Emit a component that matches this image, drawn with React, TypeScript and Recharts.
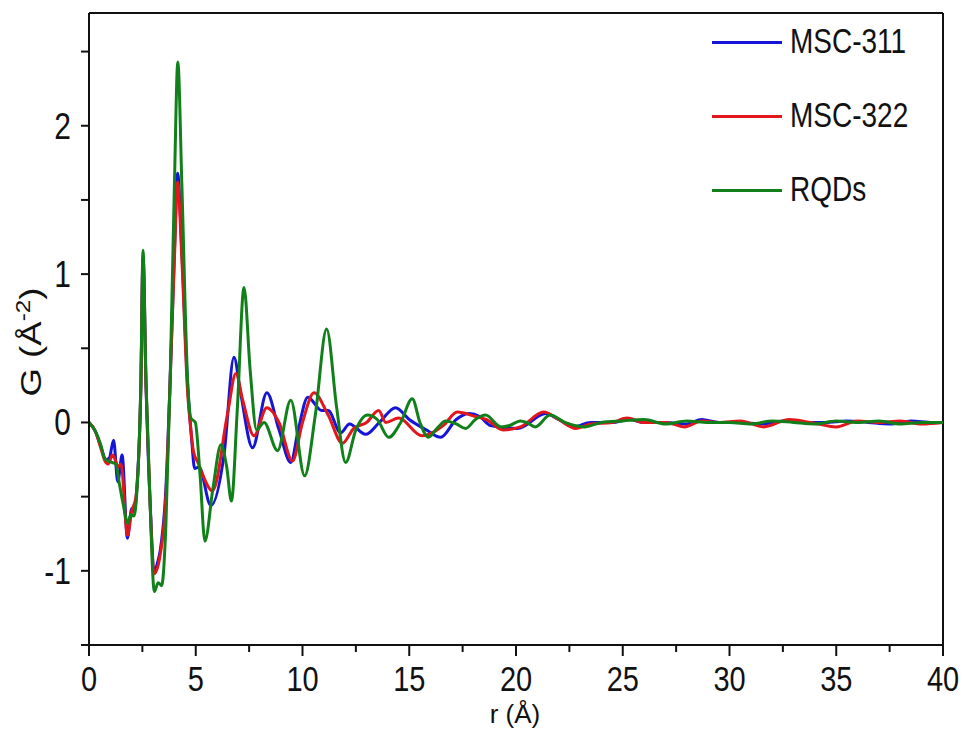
import { LineChart, Line, XAxis, YAxis, ReferenceLine } from 'recharts'

// r (Å) / G (Å^-2), one pair of arrays per sample
const rqdR = [0, 0.3, 0.55, 0.72, 0.9, 1.1, 1.25, 1.42, 1.6, 1.81, 1.96, 2.1, 2.25, 2.43, 2.53, 2.67, 2.85, 3.06, 3.24, 3.4, 3.6, 3.8, 4.0, 4.16, 4.35, 4.62, 4.77, 4.98, 5.2, 5.43, 5.8, 6.18, 6.45, 6.67, 6.95, 7.26, 7.55, 7.85, 8.2, 8.83, 9.45, 10.1, 10.6, 11.13, 11.6, 12.02, 12.5, 13.04, 13.5, 14.04, 14.6, 15.14, 15.5, 15.9, 16.3, 16.7, 17.2, 17.64, 18.1, 18.57, 19.3, 19.7, 20.2, 20.5, 20.9, 21.6, 22.3, 23.2, 24, 25, 26, 27, 28, 29, 30, 31, 32, 33, 34, 35, 36, 37, 38, 39, 40]
const rqdG = [0, -0.06, -0.15, -0.24, -0.26, -0.27, -0.28, -0.41, -0.55, -0.68, -0.62, -0.63, -0.45, 0.28, 1.16, 0.28, -0.5, -1.14, -1.08, -1.1, -0.7, 0.28, 1.6, 2.43, 1.6, 0.28, 0.03, 0.0, -0.35, -0.8, -0.45, -0.15, -0.3, -0.53, 0.1, 0.91, 0.35, -0.05, 0.0, -0.19, 0.15, -0.36, 0.05, 0.63, 0.1, -0.27, -0.05, 0.05, 0.02, -0.1, 0.0, 0.16, 0.0, -0.1, -0.04, 0.01, -0.01, -0.04, 0.02, 0.05, -0.03, -0.02, 0.01, 0.0, -0.03, 0.05, 0.0, -0.03, 0.0, 0.01, 0.02, -0.01, 0.01, 0.0, 0.0, -0.01, 0.01, 0.0, -0.01, 0.01, 0.0, 0.01, -0.01, 0.0, 0.0]

const msc311R = [0, 0.3, 0.55, 0.8, 0.95, 1.15, 1.35, 1.55, 1.8, 2.0, 2.1, 2.25, 2.43, 2.53, 2.67, 2.85, 3.08, 3.2, 3.34, 3.6, 3.8, 4.0, 4.15, 4.35, 4.62, 4.8, 4.95, 5.15, 5.71, 6.33, 6.79, 7.1, 7.66, 8.33, 8.9, 9.45, 9.8, 10.25, 10.9, 11.2, 11.79, 12.2, 12.96, 13.6, 14.36, 15.0, 15.8, 16.47, 17.2, 17.8, 18.3, 18.8, 20.07, 21.4, 22.0, 22.7, 23.5, 24.5, 25.3, 26, 27, 28, 28.7, 29.5, 30.5, 31.5, 32.5, 33.5, 34.5, 35.5, 36.5, 37.5, 38.5, 39.5, 40]
const msc311G = [0, -0.06, -0.16, -0.25, -0.24, -0.12, -0.4, -0.22, -0.78, -0.58, -0.6, -0.42, 0.25, 1.12, 0.25, -0.5, -1.0, -0.95, -0.86, -0.45, 0.28, 1.15, 1.68, 1.15, 0.25, -0.1, -0.31, -0.3, -0.56, -0.21, 0.44, 0.2, -0.17, 0.2, -0.05, -0.27, -0.05, 0.17, 0.08, 0.08, -0.07, -0.01, -0.08, 0.0, 0.1, 0.02, -0.05, -0.1, 0.02, 0.06, 0.04, -0.02, -0.04, 0.06, 0.02, -0.03, 0.0, 0.0, 0.02, 0.0, 0.0, -0.01, 0.02, 0.0, 0.0, -0.01, 0.01, 0.0, 0.0, 0.01, 0.0, -0.01, 0.01, 0.0, 0.0]

const msc322R = [0, 0.3, 0.55, 0.75, 0.9, 1.1, 1.25, 1.35, 1.5, 1.8, 2.0, 2.2, 2.43, 2.53, 2.67, 2.85, 3.05, 3.3, 3.6, 3.8, 4.0, 4.15, 4.35, 4.62, 4.73, 4.9, 5.1, 5.79, 6.49, 6.88, 7.2, 7.73, 8.33, 8.9, 9.53, 10.0, 10.54, 11.2, 11.87, 12.4, 13.0, 13.57, 13.9, 14.5, 15.6, 16.2, 16.6, 17.25, 18.1, 18.6, 19.4, 20.2, 21.3, 22.0, 22.8, 23.5, 24.5, 25.2, 26, 27, 27.9, 28.7, 29.5, 30.5, 31.6, 32.8, 33.8, 35.0, 36, 37, 38, 39, 40]
const msc322G = [0, -0.06, -0.17, -0.26, -0.28, -0.22, -0.26, -0.3, -0.28, -0.76, -0.6, -0.5, 0.25, 1.1, 0.25, -0.5, -1.02, -0.92, -0.5, 0.28, 1.1, 1.62, 1.1, 0.2, 0.01, -0.2, -0.27, -0.46, 0.06, 0.33, 0.15, -0.09, 0.1, 0.0, -0.26, 0.0, 0.2, 0.05, -0.14, -0.04, 0.0, 0.08, 0.0, 0.03, -0.09, -0.06, -0.02, 0.07, 0.04, 0.02, -0.05, -0.03, 0.07, 0.02, -0.04, -0.01, 0.0, 0.03, 0.0, 0.0, -0.03, 0.01, 0.0, 0.01, -0.03, 0.02, 0.0, -0.03, 0.01, 0.0, 0.01, -0.01, 0.0]

const xTicks = [0, 2.5, 5, 7.5, 10, 12.5, 15, 17.5, 20, 22.5, 25, 27.5, 30, 32.5, 35, 37.5, 40]
const yTicks = [-1.5, -1, -0.5, 0, 0.5, 1, 1.5, 2, 2.5]
const yMax = 2.76

const legendItems = [
  { name: 'MSC-311', color: '#1515d8' },
  { name: 'MSC-322', color: '#e3161c' },
  { name: 'RQDs', color: '#12801a' },
]

const toSeries = (r: number[], g: number[]) => r.map((x, i) => ({ r: x, g: g[i] }))

const FONT = "'Liberation Sans', Arial, sans-serif"
// the source figure's lettering is stretched vertically
const STRETCH = 1.22

function XTick({ x, y, payload }: any) {
  const major = payload.value % 5 === 0
  return (
    <g>
      <line x1={x} y1={y} x2={x} y2={y + (major ? 11 : 7)} stroke="#111" strokeWidth={2} />
      {major && (
        <text transform={`translate(${x},${y + 46}) scale(1,${STRETCH})`} textAnchor="middle" fontSize={29} fontFamily={FONT} fill="#111">
          {payload.value}
        </text>
      )}
    </g>
  )
}

function YTick({ x, y, payload }: any) {
  const major = Number.isInteger(payload.value)
  return (
    <g>
      <line x1={x - 8} y1={y} x2={x} y2={y} stroke="#111" strokeWidth={2} />
      {major && (
        <text transform={`translate(${x - 18},${y + 13}) scale(1,${STRETCH})`} textAnchor="end" fontSize={30} fontFamily={FONT} fill="#111">
          {payload.value}
        </text>
      )}
    </g>
  )
}

function LegendBox() {
  return (
    <div style={{ position: 'absolute', left: 712, top: 5, fontFamily: FONT, fontSize: 28, color: '#111' }}>
      {legendItems.map((it) => (
        <div key={it.name} style={{ display: 'flex', alignItems: 'center', height: 74 }}>
          <div style={{ width: 70, height: 3, background: it.color, marginRight: 8 }} />
          <span style={{ display: 'inline-block', transform: `scaleY(${STRETCH})` }}>{it.name}</span>
        </div>
      ))}
    </div>
  )
}

export default function App() {
  return (
    <div style={{ position: 'absolute', left: 0, top: 0, width: 964, height: 730, background: '#fff' }}>
      <LineChart width={964} height={730} margin={{ top: 13, right: 21, left: 0, bottom: 0 }}>
        <XAxis
          dataKey="r"
          type="number"
          domain={[0, 40]}
          ticks={xTicks}
          interval={0}
          height={85}
          tickSize={0}
          tickMargin={0}
          tickLine={false}
          axisLine={{ stroke: '#111', strokeWidth: 2 }}
          tick={<XTick />}
          allowDataOverflow
        />
        <YAxis
          type="number"
          domain={[-1.5, yMax]}
          ticks={yTicks}
          interval={0}
          width={89}
          tickSize={0}
          tickMargin={0}
          tickLine={false}
          axisLine={{ stroke: '#111', strokeWidth: 2 }}
          tick={<YTick />}
          allowDataOverflow
        />
        <ReferenceLine y={yMax} stroke="#111" strokeWidth={2} />
        <ReferenceLine x={40} stroke="#111" strokeWidth={2} />
        <Line data={toSeries(msc311R, msc311G)} dataKey="g" name="MSC-311" type="monotone" stroke="#1515d8" strokeWidth={3} dot={false} isAnimationActive={false} />
        <Line data={toSeries(msc322R, msc322G)} dataKey="g" name="MSC-322" type="monotone" stroke="#e3161c" strokeWidth={3} dot={false} isAnimationActive={false} />
        <Line data={toSeries(rqdR, rqdG)} dataKey="g" name="RQDs" type="monotone" stroke="#12801a" strokeWidth={3} dot={false} isAnimationActive={false} />
        <text x={515} y={723} textAnchor="middle" fontSize={26} fontFamily={FONT} fill="#111">r (Å)</text>
        <text transform={`translate(41,342) rotate(-90) scale(${STRETCH},1)`} textAnchor="middle" fontSize={30} fontFamily={FONT} fill="#111">
          G (Å<tspan dy={-11} fontSize={20}>-2</tspan><tspan dy={11}>)</tspan>
        </text>
      </LineChart>
      <LegendBox />
    </div>
  )
}
